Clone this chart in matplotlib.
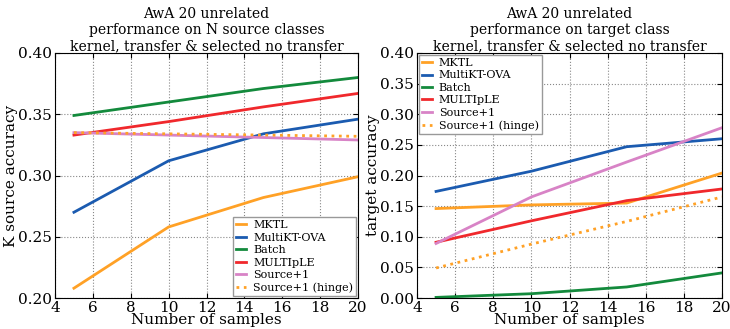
import matplotlib.pyplot as plt

plt.rcParams['font.family'] = ['DejaVu Serif']

samples = [5, 10, 15, 20]
labels = ['MKTL', 'MultiKT-OVA', 'Batch', 'MULTIpLE', 'Source+1', 'Source+1 (hinge)']
colors = ['#ffa126', '#1b5bb0', '#138a3c', '#f0282c', '#d883c6', '#ffa126']
styles = ['-', '-', '-', '-', '-', ':']

# accuracy on the N source classes
src_mktl = [0.208, 0.258, 0.282, 0.299]
src_ova = [0.270, 0.312, 0.334, 0.346]
src_batch = [0.349, 0.360, 0.371, 0.380]
src_multiple = [0.333, 0.344, 0.356, 0.367]
src_s1 = [0.335, 0.333, 0.331, 0.329]
src_s1_hinge = [0.335, 0.334, 0.333, 0.332]

# accuracy on the target class
tgt_mktl = [0.146, 0.152, 0.155, 0.204]
tgt_ova = [0.174, 0.207, 0.247, 0.260]
tgt_batch = [0.001, 0.007, 0.018, 0.041]
tgt_multiple = [0.091, 0.126, 0.159, 0.178]
tgt_s1 = [0.089, 0.165, 0.222, 0.278]
tgt_s1_hinge = [0.049, 0.088, 0.125, 0.165]

fig = plt.figure(figsize=(7.3, 3.29), dpi=100)
ax1 = fig.add_axes([55 / 730, 31 / 329, 303 / 730, 245 / 329])
ax2 = fig.add_axes([417 / 730, 31 / 329, 305 / 730, 245 / 329])


def draw(ax, series, ylim, yticks, ylabel, title, legend_loc):
    for vals, lab, c, ls in zip(series, labels, colors, styles):
        ax.plot(samples, vals, color=c, linestyle=ls, lw=2, label=lab)
    ax.set_xlim(4, 20)
    ax.set_ylim(*ylim)
    ax.set_xticks(range(4, 21, 2))
    ax.set_yticks(yticks)
    ax.set_yticklabels([f'{t:.2f}' for t in yticks])
    ax.grid(True, color='#888888', linestyle=':', lw=0.8)
    ax.tick_params(direction='in', top=True, right=True, labelsize=11, pad=2)
    ax.set_xlabel('Number of samples', fontsize=11, labelpad=-1)
    ax.set_ylabel(ylabel, fontsize=11, labelpad=0)
    ax.set_title(title, fontsize=10, linespacing=1.2, pad=2)
    ax.legend(loc=legend_loc, fontsize=8, handlelength=0.9, labelspacing=0.22,
              borderpad=0.3, handletextpad=0.6, borderaxespad=0.15,
              fancybox=False, framealpha=1, edgecolor='#999999')


draw(ax1, [src_mktl, src_ova, src_batch, src_multiple, src_s1, src_s1_hinge],
     (0.2, 0.4), [0.20, 0.25, 0.30, 0.35, 0.40], 'K source accuracy',
     'AwA 20 unrelated\nperformance on N source classes\nkernel, transfer & selected no transfer',
     'lower right')
draw(ax2, [tgt_mktl, tgt_ova, tgt_batch, tgt_multiple, tgt_s1, tgt_s1_hinge],
     (0.0, 0.4), [0.00, 0.05, 0.10, 0.15, 0.20, 0.25, 0.30, 0.35, 0.40], 'target accuracy',
     'AwA 20 unrelated\nperformance on target class\nkernel, transfer & selected no transfer',
     'upper left')

fig.savefig('out.png', dpi=100)
